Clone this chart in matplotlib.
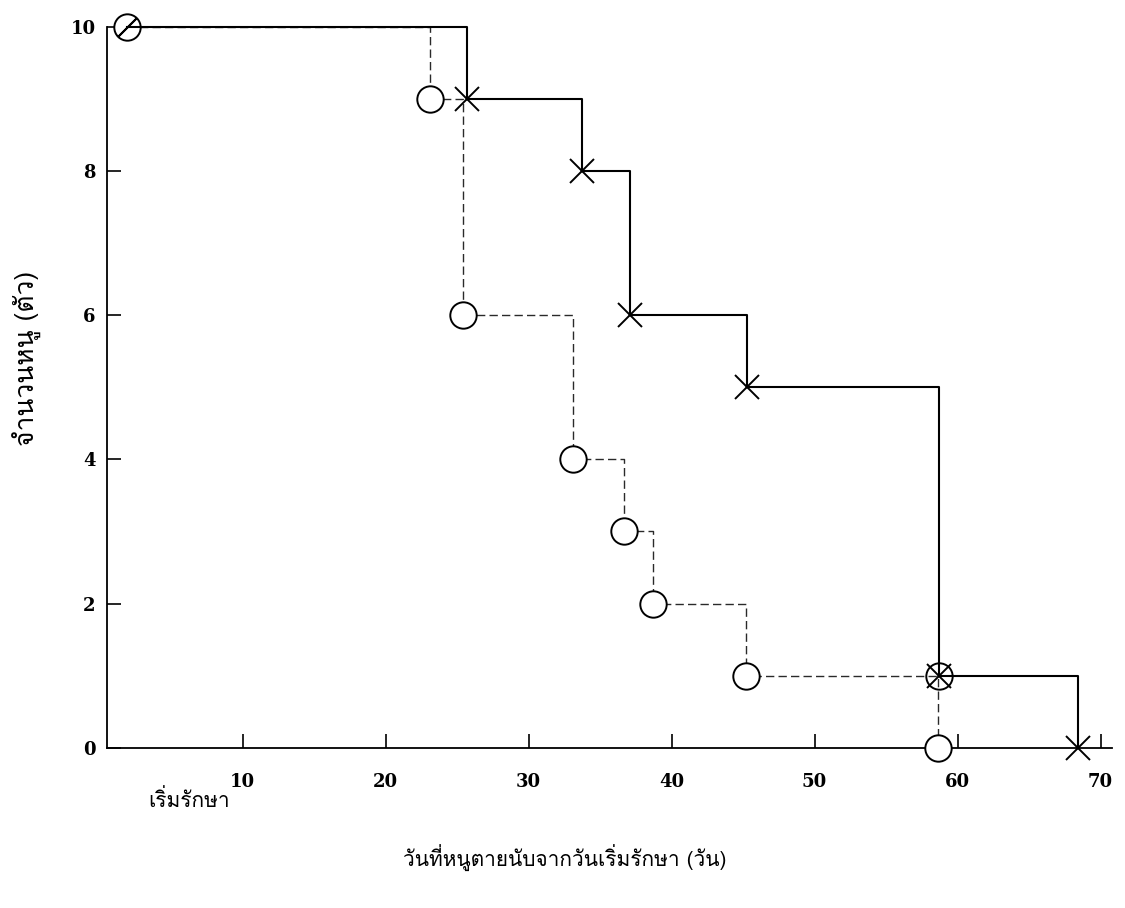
import numpy as np
import matplotlib
matplotlib.use("Agg")
import matplotlib.pyplot as plt
from matplotlib import font_manager as fm
from matplotlib.ft2font import FT2Font

# Data (days since treatment start, number of rats alive)
days_dashed = [1.9, 23.1, 25.4, 33.1, 36.7, 38.7, 45.2, 58.6]
alive_dashed = [10, 9, 6, 4, 3, 2, 1, 0]

days_solid = [1.9, 25.7, 33.7, 37.1, 45.3, 58.7, 68.4]
alive_solid = [10, 9, 8, 6, 5, 1, 0]

x_ticks = [10, 20, 30, 40, 50, 60, 70]
y_ticks = [0, 2, 4, 6, 8, 10]

ylabel = "จำนวนหนู (ตัว)"
xlabel = "วันที่หนูตายนับจากวันเริ่มรักษา (วัน)"
start_label = "เริ่มรักษา"


# find an installed font that has Thai glyphs
def find_thai_font():
    seen = set()
    for f in fm.fontManager.ttflist:
        if f.fname in seen:
            continue
        seen.add(f.fname)
        try:
            if 0x0E01 in FT2Font(f.fname).get_charmap():
                return f.name
        except Exception:
            pass
    return None


thai = find_thai_font()
thai_family = [thai, "DejaVu Sans"] if thai else ["DejaVu Sans"]

fig = plt.figure(figsize=(11.25, 9.08), dpi=100)
ax = fig.add_axes([0.095, 0.1487, 0.896, 0.8458])

ax.plot(days_dashed, alive_dashed, drawstyle="steps-post", color="#2a2a2a",
        lw=1.0, dashes=(6, 3), marker="o", ms=19, mfc="white", mec="black",
        mew=1.4, zorder=3)
ax.plot(days_solid, alive_solid, drawstyle="steps-post", color="black",
        lw=1.5, marker="x", ms=17, mew=1.4, markevery=list(range(1, len(days_solid))),
        zorder=4)
# slash through the shared starting circle
ax.plot(days_solid[:1], alive_solid[:1], ls="none", marker=(2, 2, -45),
        ms=18, mec="black", mew=1.4, zorder=5)
# circled cross where the two groups meet
ax.plot(days_solid[5:6], alive_solid[5:6], ls="none", marker="o", ms=19,
        mfc="none", mec="black", mew=1.4, zorder=5)

ax.set_xlim(0.5, 71)
ax.set_ylim(-0.35, 10.3)
for s in ["top", "right"]:
    ax.spines[s].set_visible(False)
ax.spines["left"].set_bounds(0, 10)
ax.spines["bottom"].set_position(("data", 0))
ax.spines["bottom"].set_bounds(0.5, 70.8)
for s in ["left", "bottom"]:
    ax.spines[s].set_linewidth(1.3)

ax.set_xticks(x_ticks)
ax.set_yticks(y_ticks)
ax.tick_params(axis="y", direction="in", length=10, width=1.2, pad=8)
ax.tick_params(axis="x", direction="in", length=10, width=1.2, pad=18)
for lab in ax.get_xticklabels() + ax.get_yticklabels():
    lab.set_family("DejaVu Serif")
    lab.set_fontsize(13)
    lab.set_fontweight("bold")

fig.text(27 / 1125, 1 - 358 / 908, ylabel, rotation=90, ha="center",
         va="center", fontsize=19, family=thai_family)
fig.text(565 / 1125, 1 - 858 / 908, xlabel, ha="center", va="center",
         fontsize=15, family=thai_family)
fig.text(148 / 1125, 1 - 800 / 908, start_label, ha="left", va="center",
         fontsize=15, family=thai_family)

fig.savefig("out.png", dpi=100)
